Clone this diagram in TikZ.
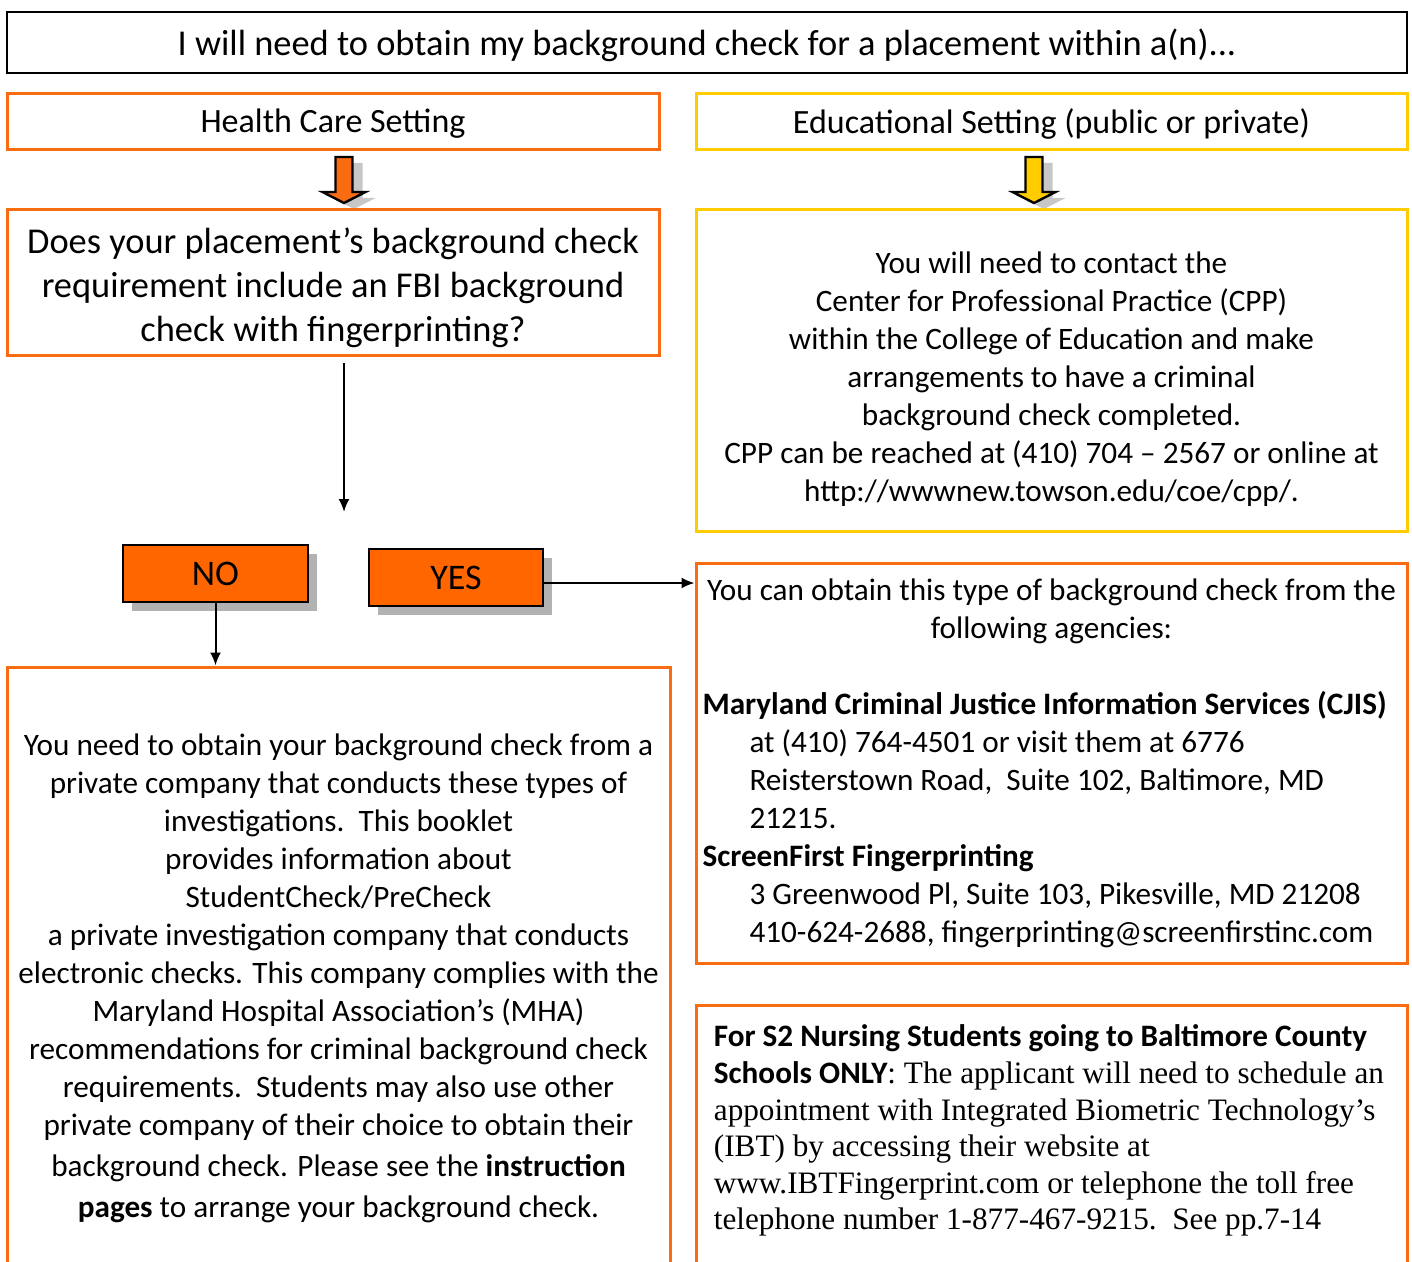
\documentclass[tikz,border=0pt]{standalone}
\usepackage{fontspec}
\setmainfont{Carlito}
\newfontfamily\timesfont{Liberation Serif}
\usetikzlibrary{arrows.meta, positioning, calc, shadows}
\definecolor{hcorange}{RGB}{250,108,18}
\definecolor{btnorange}{RGB}{255,102,0}
\definecolor{edyellow}{RGB}{255,204,0}
\newcommand{\bodyfont}{\fontsize{15.6}{19}\selectfont}
\newcommand{\calbold}[1]{{\rmfamily\bfseries #1}}

\begin{document}
\begin{tikzpicture}[
    x=0.5pt, y=-0.5pt,
    frame/.style={draw, line width=1.5pt, minimum width=326pt, align=center, inner sep=0pt, font=\bodyfont},
    hcbox/.style={frame, draw=hcorange},
    edbox/.style={frame, draw=edyellow, minimum width=355.5pt},
    choice/.style={draw=black, line width=1.2pt, fill=btnorange, minimum height=28.5pt, font=\fontsize{18}{20}\selectfont,
        general shadow={fill=gray!60, shadow xshift=4.5pt, shadow yshift=-4.5pt}},
    arr/.style={-{Latex[length=6.5pt, width=5.5pt]}, line width=1pt},
    blockdown/.pic={
        \fill[black!22, shift={(10,6)}] (-8.5,0) -- (8.5,0) -- (8.5,35) -- (21.5,35) -- (0,46) -- (-21.5,35) -- (-8.5,35) -- cycle;
        \draw[line width=1.2pt, pic actions] (-8.5,0) -- (8.5,0) -- (8.5,35) -- (21.5,35) -- (0,46) -- (-21.5,35) -- (-8.5,35) -- cycle;
    }
]
\useasboundingbox (0,0) rectangle (1412,1262);
\clip (0,0) rectangle (1412,1262);

% top question
\node[frame, draw=black, line width=1.2pt, minimum width=700pt, minimum height=30.5pt, font=\fontsize{18.2}{21}\selectfont] (ask) at (707,42.5) {};
\node[inner sep=0pt, font=\fontsize{18.2}{21}\selectfont] (asktext) at ([yshift=-1.5pt]ask.center)
    {I will need to obtain my background check for a placement within a(n)...};

% the two settings
\node[hcbox, minimum height=28pt, font=\fontsize{17}{19}\selectfont, text depth=1pt] (health) at (333,122) {Health Care Setting};
\node[edbox, minimum height=28pt, font=\fontsize{17}{19}\selectfont, text depth=1pt] (edu) at (1051.5,122) {Educational Setting (public or private)};
\pic[fill=hcorange] at (344,157) {blockdown};
\pic[fill=edyellow] at (1034,157) {blockdown};

\node[hcbox, minimum height=73pt] (fbi) at (333,283) {};
\node[align=center, inner sep=0pt, font=\fontsize{18.2}{22}\selectfont] (fbitext) at ([yshift=-2.5pt]fbi.center)
    {Does your placement’s background check\\requirement include an FBI background\\check with fingerprinting?};
\node[edbox, minimum height=160.5pt] (cpp) at (1051.5,370.5) {};
\node[align=center, inner sep=0pt, font=\bodyfont] (cpptext) at ([yshift=-4.5pt]cpp.center)
    {You will need to contact the\\
     Center for Professional Practice (CPP)\\
     within the College of Education and make\\
     arrangements to have a criminal\\
     background check completed.\\
     CPP can be reached at (410) 704 – 2567 or online at\\
     http://wwwnew.towson.edu/coe/cpp/.};

% answers
\coordinate (split) at (344,512);
\node[choice, minimum width=92.5pt] (no) at (215.5,573.5) {NO};
\node[choice, minimum width=87pt] (yes) at (456,577.5) {YES};

\node[hcbox, minimum width=331.5pt, minimum height=311pt] (private) at (338.5,978)
    {You need to obtain your background check from a\\
     private company that conducts these types of\\
     investigations.\ \ This booklet\\
     provides information about\\
     StudentCheck/PreCheck\\
     a private investigation company that conducts\\
     electronic checks. This company complies with the\\
     Maryland Hospital Association’s (MHA)\\
     recommendations for criminal background check\\
     requirements.\ \ Students may also use other\\
     private company of their choice to obtain their\\[1.5pt]
     background check. Please see the \textbf{instruction}\\[1.5pt]
     \textbf{pages} to arrange your background check.};

\node[hcbox, minimum width=355.5pt, minimum height=200pt, text width=349pt, align=flush left] (agency) at (1051.5,763)
    {{\centering You can obtain this type of background check from the\\ following agencies:\par}
     \vspace{19pt}
     \textbf{Maryland Criminal Justice Information Services (CJIS)}\par
     \leftskip=23.5pt\relax at (410) 764-4501 or visit them at 6776\\
     Reisterstown Road,\ \ Suite 102, Baltimore, MD\\
     21215.\par
     \leftskip=0pt\relax \textbf{ScreenFirst Fingerprinting}\par
     \leftskip=23.5pt\relax 3 Greenwood Pl, Suite 103, Pikesville, MD 21208\\
     410-624-2688, fingerprinting@screenfirstinc.com\par};

\node[hcbox, minimum width=355.5pt, minimum height=147.5pt] (s2) at (1051.5,1152.5) {};
\node[anchor=north west, align=left, inner sep=0pt, font=\timesfont\fontsize{15.6}{18.3}\selectfont] (s2text) at ([xshift=9.5pt, yshift=-10.5pt]s2.north west)
    {\calbold{For S2 Nursing Students going to Baltimore County}\\
     \calbold{Schools ONLY}: The applicant will need to schedule an\\
     appointment with Integrated Biometric Technology’s\\
     (IBT) by accessing their website at\\
     www.IBTFingerprint.com or telephone the toll free\\
     telephone number 1-877-467-9215.\ \ See pp.7-14};

% connectors
\draw[arr, shorten <=3pt] (fbi.south -| split) -- (split);
\draw[arr] (no.south) -- (no.south |- private.north);
\draw[arr] ([yshift=-2.75pt]yes.east) -- ([yshift=-2.75pt]yes.east -| agency.west);
\end{tikzpicture}
\end{document}
